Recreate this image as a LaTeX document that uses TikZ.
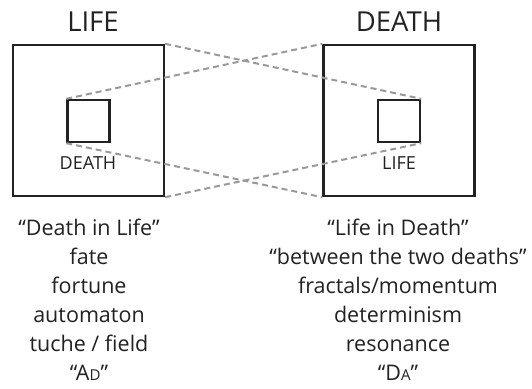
\documentclass[tikz,border=0pt]{standalone}
\usepackage{fontspec}
\setmainfont{Open Sans}
\definecolor{boxline}{HTML}{222222}
\definecolor{dashline}{HTML}{999999}
\tikzset{
  bigbox/.style={draw=boxline, line width=2.4pt, minimum width=151pt, minimum height=151pt, inner sep=0pt},
  smallbox/.style={draw=boxline, line width=2.4pt, minimum width=42pt, minimum height=42pt, inner sep=0pt},
  cross/.style={draw=dashline, line width=2pt, dash pattern=on 6pt off 4pt},
  title/.style={font=\fontsize{27.5}{30}\selectfont, text=boxline},
  inlabel/.style={font=\fontsize{18}{20}\selectfont, text=boxline},
  col/.style={align=center, font=\fontsize{21.5}{29}\selectfont, text=boxline, anchor=north}
}
\begin{document}
\begin{tikzpicture}[x=1pt, y=-1pt]
  \useasboundingbox (0,0) rectangle (532,388);
  \node[bigbox] (lifebox) at (88.5,120.5) {};
  \node[bigbox] (deathbox) at (399,120.5) {};
  \node[smallbox] (lifein) at (88.5,121) {};
  \node[smallbox] (deathin) at (399,121) {};
  \node[title] (lifetitle) at (93,22) {LIFE};
  \node[title] (deathtitle) at (399,22) {DEATH};
  \node[inlabel] (innerdeath) at (88,163) {DEATH};
  \node[inlabel] (innerlife) at (399,163) {LIFE};
  \draw[cross] (lifebox.north east) -- (deathin.north east);
  \draw[cross] (lifein.north west) -- (deathbox.north west);
  \draw[cross] (lifebox.south east) -- (deathin.south east);
  \draw[cross] (lifein.south west) -- (deathbox.south west);
  \node[col] (leftcol) at (89,216) {``Death in Life''\\fate\\fortune\\automaton\\tuche / field\\``A{\fontsize{15}{29}\selectfont D}''};
  \node[col] (rightcol) at (398,216) {``Life in Death''\\``between the two deaths''\\fractals/momentum\\determinism\\resonance\\``D{\fontsize{15}{29}\selectfont A}''};
\end{tikzpicture}
\end{document}
